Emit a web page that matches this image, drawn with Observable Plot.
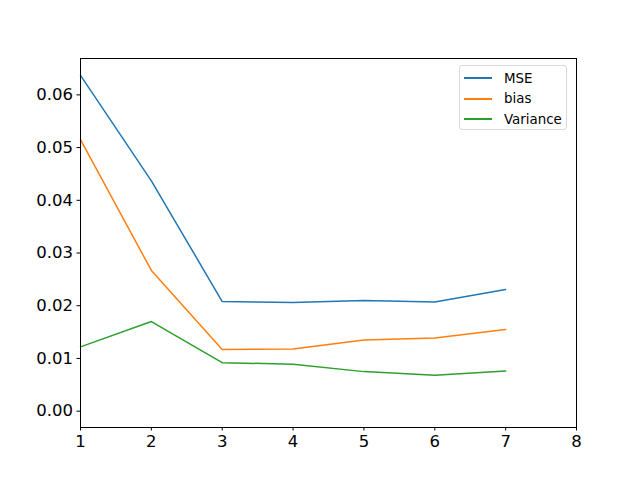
<!DOCTYPE html>
<html>
<head>
<meta charset="utf-8">
<script src="https://cdn.jsdelivr.net/npm/d3@7"></script>
<script src="https://cdn.jsdelivr.net/npm/@observablehq/plot@0.6"></script>
<style>
  html, body { margin: 0; padding: 0; background: #fff; }
  #wrap { position: relative; width: 640px; height: 480px; font-family: "DejaVu Sans", sans-serif; }
  #legend {
    position: absolute; left: 459px; top: 65px; width: 108px; height: 65px;
    border: 1px solid #d9d9d9; border-radius: 3px; background: rgba(255,255,255,0.8);
    font-size: 13.4px; color: #000; box-sizing: border-box;
  }
  .item { position: absolute; left: 0; height: 20px; display: flex; align-items: center; }
  .swatch { display: inline-block; width: 28px; height: 0; border-top: 2px solid; margin-left: 4px; margin-right: 12px; }
</style>
</head>
<body>
<div id="wrap"></div>
<script>
const xs = [1, 2, 3, 4, 5, 6, 7];
const seriesNames = ["MSE", "bias", "Variance"];
const colors = ["#1f77b4", "#ff7f0e", "#2ca02c"];
const mse = [0.0637, 0.0437, 0.0208, 0.0206, 0.0210, 0.0207, 0.0231];
const bias = [0.0515, 0.0267, 0.0117, 0.0118, 0.0135, 0.0139, 0.0155];
const variance = [0.0122, 0.0170, 0.0092, 0.0089, 0.0075, 0.0068, 0.0076];
const yTicks = [0, 0.01, 0.02, 0.03, 0.04, 0.05, 0.06];
const xTicks = [1, 2, 3, 4, 5, 6, 7, 8];

const allSeries = [mse, bias, variance];
const rows = [];
allSeries.forEach((vals, si) => vals.forEach((v, i) => rows.push({x: xs[i], y: v, s: seriesNames[si]})));

const chart = Plot.plot({
  width: 640,
  height: 480,
  marginLeft: 80,
  marginRight: 64,
  marginTop: 58,
  marginBottom: 53,
  style: { fontFamily: "DejaVu Sans, sans-serif", fontSize: "16.5px", color: "#000", background: "#fff" },
  x: { domain: [1, 8], ticks: xTicks, tickFormat: d3.format("d"), label: null, tickSize: 3.5, tickPadding: 4 },
  y: { domain: [-0.0031, 0.0669], ticks: yTicks, tickFormat: d3.format(".2f"), label: null, tickSize: 3.5, tickPadding: 4 },
  color: { domain: seriesNames, range: colors },
  marks: [
    Plot.line(rows, { x: "x", y: "y", z: "s", stroke: "s", strokeWidth: 1.5 }),
    Plot.axisX({ ticks: xTicks, tickFormat: d3.format("d"), tickSize: 3.5, tickPadding: 4, label: null, stroke: "#000", fill: "#000", strokeOpacity: 1 }),
    Plot.axisY({ ticks: yTicks, tickFormat: d3.format(".2f"), tickSize: 3.5, tickPadding: 4, label: null, stroke: "#000", fill: "#000", strokeOpacity: 1 }),
    Plot.frame({ stroke: "#000", strokeWidth: 1 })
  ]
});

const wrap = document.getElementById("wrap");
wrap.appendChild(chart);

const legend = document.createElement("div");
legend.id = "legend";
seriesNames.forEach((name, i) => {
  const item = document.createElement("div");
  item.className = "item";
  item.style.top = (2 + i * 20.5) + "px";
  const sw = document.createElement("span");
  sw.className = "swatch";
  sw.style.borderTopColor = colors[i];
  const t = document.createElement("span");
  t.textContent = name;
  item.appendChild(sw);
  item.appendChild(t);
  legend.appendChild(item);
});
wrap.appendChild(legend);
</script>
</body>
</html>
